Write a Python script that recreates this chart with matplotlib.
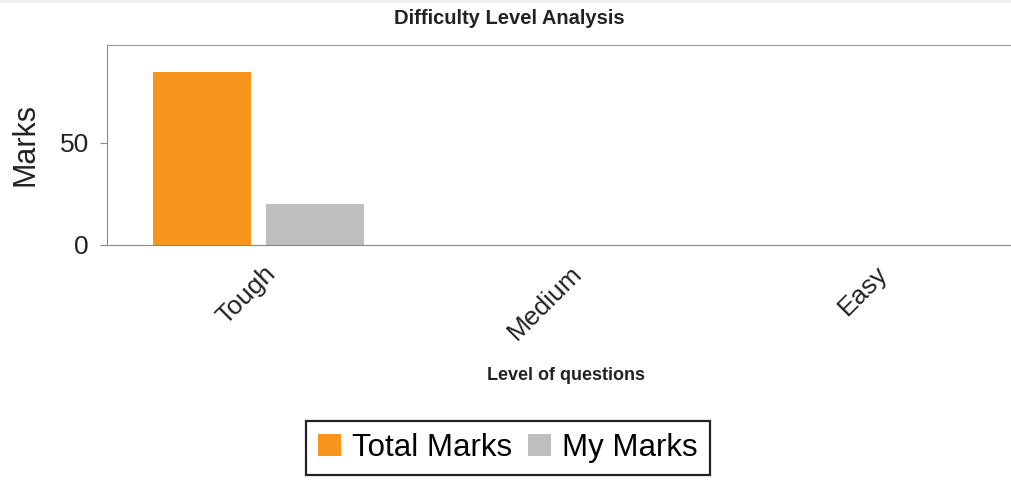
import matplotlib.pyplot as plt
import matplotlib.transforms as mtransforms
import numpy as np

levels = ['Tough', 'Medium', 'Easy']
total_marks = [85, 0, 0]
my_marks = [20, 0, 0]

plt.rcParams['font.family'] = ['Liberation Sans', 'DejaVu Sans']

fig = plt.figure(figsize=(10.12, 4.82), dpi=100)
# axes runs a little past the right edge of the image (no right spine seen)
ax = fig.add_axes([107 / 1012, 1 - 245 / 482, 918 / 1012, 200 / 482])

ind = np.arange(len(levels))
w = 0.32
ax.bar(ind - 0.19, total_marks, width=w, color='#f7951d', label='Total Marks')
ax.bar(ind + 0.18, my_marks, width=w, color='#bebebe', label='My Marks')

ax.set_xlim(-0.5, 2.5)
ax.set_ylim(0, 98)
ax.set_yticks([0, 50])
ax.set_xticks(ind)
ax.set_xticklabels(levels, rotation=45, ha='right', va='center',
                   rotation_mode='anchor', fontsize=19, color='#222222')
ax.tick_params(axis='y', labelsize=19, length=5, pad=8, color='#888888', labelcolor='#222222')
ax.tick_params(axis='x', length=0, pad=18)
offset = mtransforms.ScaledTranslation(0.12, 0, fig.dpi_scale_trans)
for lbl in ax.get_xticklabels():
    lbl.set_transform(lbl.get_transform() + offset)

ax.spines['right'].set_visible(False)
ax.spines['top'].set_color('#999999')
ax.spines['left'].set_color('#888888')
ax.spines['bottom'].set_color('#888888')
ax.spines['bottom'].set_linestyle((0, (3, 1)))

fig.text(509 / 1012, 1 - 19 / 482, 'Difficulty Level Analysis', fontsize=14.5,
         fontweight='bold', ha='center', va='center', color='#222222')
ax.set_ylabel('Marks', fontsize=22, color='#222222')
ax.yaxis.set_label_coords(-0.089, 0.5)
ax.yaxis.label.set_va('center')
ax.set_xlabel('Level of questions', fontsize=13, fontweight='bold', color='#222222')
ax.xaxis.set_label_coords(0.5, -0.65)
ax.xaxis.label.set_va('center')

leg = fig.legend(loc='center', bbox_to_anchor=(508 / 1012, 1 - 448 / 482), ncol=2, fontsize=22.5,
                 frameon=True, fancybox=False, edgecolor='#222222', framealpha=1,
                 handlelength=0.72, handleheight=0.72, handletextpad=0.37, columnspacing=0.5,
                 borderpad=0.38, borderaxespad=0)
leg.get_frame().set_linewidth(1.6)

fig.add_artist(plt.Rectangle((0, 1 - 3 / 482), 1, 3 / 482, transform=fig.transFigure,
                             color='#eeeeee', lw=0))

plt.savefig('out.png', dpi=100)
